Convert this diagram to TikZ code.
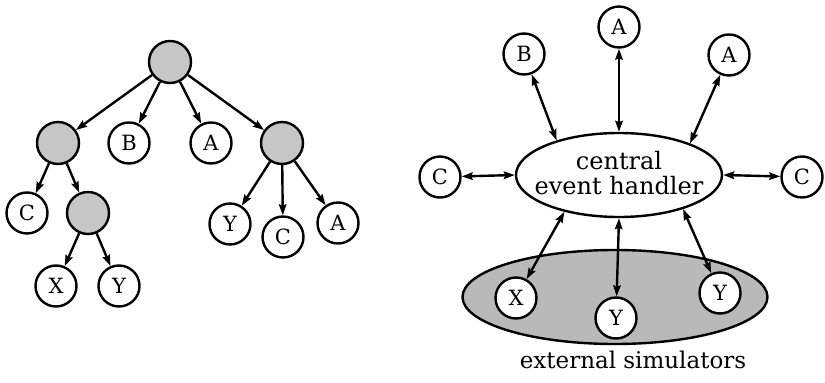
\documentclass[tikz,border=0pt]{standalone}
\usepackage{fontspec}
\setmainfont{DejaVu Serif}
\usetikzlibrary{shapes.geometric,arrows.meta}
\begin{document}
\begin{tikzpicture}[x=1pt,y=-1pt,
  leaf/.style={circle,draw,line width=2.4pt,fill=white,minimum size=41pt,inner sep=0pt,
    font=\fontsize{21}{21}\selectfont},
  inner/.style={circle,draw,line width=2.4pt,fill=gray!45,minimum size=42pt,inner sep=0pt},
  tip/.tip={Stealth[length=11pt,width=7.5pt,inset=1.5pt]},
  arr/.style={line width=2.4pt,-tip},
  biarr/.style={line width=2.4pt,tip-tip},
  lbl/.style={font=\fontsize{23}{25}\selectfont,align=center}]
\useasboundingbox (0,0) rectangle (825,383);

% ---- tree of simulators ----
\node[inner] (root) at (170,62) {};
\node[inner] (g1) at (58,143) {};
\node[leaf]  (tb) at (129,143) {B};
\node[leaf]  (ta) at (211,143) {A};
\node[inner] (g2) at (282,143) {};
\node[leaf]  (tc1) at (27,213) {C};
\node[inner] (g3) at (88,213) {};
\node[leaf]  (tx) at (56,286) {X};
\node[leaf]  (ty1) at (119,286) {Y};
\node[leaf]  (ty2) at (230,224) {Y};
\node[leaf]  (tc2) at (283,237) {C};
\node[leaf]  (ta2) at (338,223) {A};

\draw[arr] (root) -- (g1);
\draw[arr] (root) -- (tb);
\draw[arr] (root) -- (ta);
\draw[arr] (root) -- (g2);
\draw[arr] (g1) -- (tc1);
\draw[arr] (g1) -- (g3);
\draw[arr] (g3) -- (tx);
\draw[arr] (g3) -- (ty1);
\draw[arr] (g2) -- (ty2);
\draw[arr] (g2) -- (tc2);
\draw[arr] (g2) -- (ta2);

% ---- central event handler ----
\node[ellipse,draw,line width=2.4pt,fill=gray!55,minimum width=305pt,minimum height=94pt,inner sep=0pt]
  (ext) at (615,297) {};
\node[ellipse,draw,line width=2.4pt,fill=white,minimum width=206pt,minimum height=84pt,inner sep=0pt]
  (ceh) at (619,175) {};
\node[lbl,font=\fontsize{24}{25}\selectfont] (cehtext) at (619,173) {central\\event handler};
\node[lbl] (extlabel) at (633,360) {external simulators};

\node[leaf] (ra1) at (619,27) {A};
\node[leaf] (rb)  at (524,54) {B};
\node[leaf] (ra2) at (729,55) {A};
\node[leaf] (rc1) at (440,177) {C};
\node[leaf] (rc2) at (802,177) {C};
\node[leaf] (rx)  at (516,298) {X};
\node[leaf] (ry1) at (616,318) {Y};
\node[leaf] (ry2) at (720,293) {Y};

\draw[biarr] (rb)  -- (ceh.151.6);
\draw[biarr] (ra1) -- (ceh.90);
\draw[biarr] (ra2) -- (ceh.24.9);
\draw[biarr] (rc1) -- (ceh.180);
\draw[biarr] (rc2) -- (ceh.0);
\draw[biarr] (rx)  -- (ceh.214.4);
\draw[biarr] (ry1) -- (ceh.270);
\draw[biarr] (ry2) -- (ceh.332);
\end{tikzpicture}
\end{document}
